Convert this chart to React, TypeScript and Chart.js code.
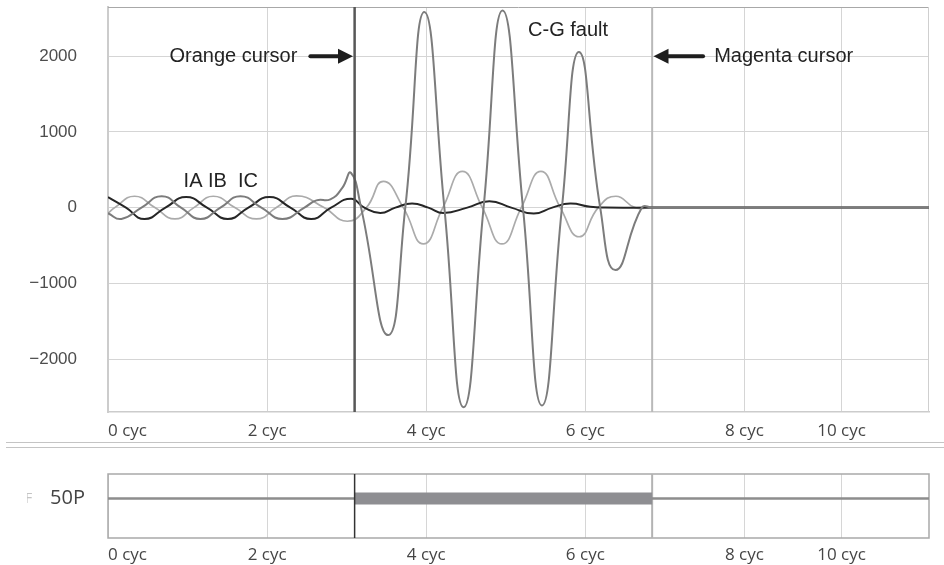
import React, { useEffect, useRef } from "react";
import { Chart, registerables } from "chart.js";

Chart.register(...registerables);

// ---------- axis data ----------
const xMin = 0;
const xMax = 10.32;
const xTickValues = [0, 2, 4, 6, 8, 9.22];
const xTickLabels = ["0 cyc", "2 cyc", "4 cyc", "6 cyc", "8 cyc", "10 cyc"];
const yMin = -2700;
const yMax = 2650;
const yTickValues = [2000, 1000, 0, -1000, -2000];

const orangeCursor = 3.1;
const magentaCursor = 6.84;

// ---------- current waveforms (cycles, amps) ----------
const iaTimes = [0, 0.226, 0.459, 0.722, 0.982, 1.244, 1.505, 1.765, 2.029, 2.293, 2.553, 2.804, 3.055, 3.222, 3.423, 3.612, 3.822, 4.026, 4.215, 4.516, 4.793, 5.069, 5.352, 5.584, 5.81, 6.061, 6.25, 6.84, 10.32];
const iaValues = [138, 0, -150, 0, 140, 0, -150, 0, 140, 0, -150, 0, 118, 0, -70, 0, 53, 0, -70, 0, 83, 0, -79, 0, 53, 10, 0, 0, 0];

const ibTimes = [0, 0.085, 0.334, 0.589, 0.842, 1.08, 1.323, 1.594, 1.866, 2.117, 2.369, 2.715, 3.009, 3.248, 3.461, 3.712, 3.964, 4.209, 4.454, 4.705, 4.952, 5.195, 5.442, 5.685, 5.923, 6.162, 6.384, 6.627, 6.84, 10.32];
const ibValues = [-75, 0, 150, 0, -150, 0, 150, 0, -150, 0, 155, 0, -180, 0, 346, 0, -480, 0, 478, 0, -480, 0, 478, 0, -385, 0, 150, 0, 0, 0];

const icTimes = [0, 0.168, 0.421, 0.675, 0.918, 1.162, 1.413, 1.665, 1.928, 2.192, 2.469, 2.62, 2.795, 2.945, 3.053, 3.181, 3.52, 3.737, 3.976, 4.228, 4.47, 4.721, 4.96, 5.216, 5.455, 5.706, 5.92, 6.187, 6.379, 6.711, 6.84, 10.32];
const icValues = [-75, -150, 0, 150, 0, -150, 0, 150, 0, -150, 0, 95, 110, 260, 460, 0, -1684, 0, 2583, 0, -2636, 0, 2605, 0, -2614, 0, 2057, 0, -825, 0, 0, 0];

// ---------- 50P digital element ----------
const p50Label = "50P";
const p50Times = [0, 3.1, 6.84, 10.32];
const p50States = [0, 1, 0];

// ---------- annotations ----------
const annotations = [
  { text: "Orange cursor", x: 2.38, y: 2000, align: "right" },
  { text: "Magenta cursor", x: 7.62, y: 2000, align: "left" },
  { text: "C-G fault", x: 5.28, y: 2343, align: "left" },
  { text: "IA IB  IC", x: 0.95, y: 350, align: "left" },
];
const arrows = [
  { from: 2.544, to: 3.08, y: 2000 },
  { from: 7.48, to: 6.857, y: 2000 },
];

const pts = (t: number[], v: number[]) => t.map((x, i) => ({ x, y: v[i] }));

const LABEL_FONT = "17px 'Open Sans', 'Noto Sans', sans-serif";
const ANNOT_FONT = "20px 'Liberation Sans', Arial, sans-serif";

function vline(ctx: CanvasRenderingContext2D, x: number, y1: number, y2: number, color: string, w: number) {
  ctx.save();
  ctx.strokeStyle = color;
  ctx.lineWidth = w;
  ctx.beginPath();
  ctx.moveTo(x, y1);
  ctx.lineTo(x, y2);
  ctx.stroke();
  ctx.restore();
}

function drawXLabels(chart: any, baselineOffset: number) {
  const { ctx, chartArea: a, scales } = chart;
  const xs = scales.x;
  ctx.save();
  ctx.font = LABEL_FONT;
  ctx.fillStyle = "#454545";
  ctx.textAlign = "left";
  ctx.textBaseline = "alphabetic";
  xTickValues.forEach((v, i) => {
    const px = xs.getPixelForValue(v);
    const w = ctx.measureText(xTickLabels[i]).width;
    const left = Math.max(px - w / 2, a.left);
    ctx.fillText(xTickLabels[i], left, a.bottom + baselineOffset);
  });
  ctx.restore();
}

function drawArrow(ctx: CanvasRenderingContext2D, x1: number, x2: number, y: number) {
  const dir = x2 > x1 ? 1 : -1;
  const headLen = 15;
  const headH = 7.5;
  ctx.save();
  ctx.fillStyle = "#1e1e1e";
  ctx.strokeStyle = "#1e1e1e";
  ctx.lineWidth = 4;
  ctx.lineCap = "round";
  ctx.beginPath();
  ctx.moveTo(x1, y);
  ctx.lineTo(x2 - dir * headLen, y);
  ctx.stroke();
  ctx.beginPath();
  ctx.moveTo(x2, y);
  ctx.lineTo(x2 - dir * headLen, y - headH);
  ctx.lineTo(x2 - dir * headLen, y + headH);
  ctx.closePath();
  ctx.fill();
  ctx.restore();
}

const topDecor = {
  id: "topDecor",
  beforeDatasetsDraw(chart: any) {
    const { ctx, chartArea: a, scales } = chart;
    ctx.save();
    ctx.strokeStyle = "#a8a8a8";
    ctx.lineWidth = 1;
    ctx.beginPath();
    ctx.moveTo(a.left, a.top + 0.5);
    ctx.lineTo(a.right, a.top + 0.5);
    ctx.stroke();
    ctx.strokeStyle = "#cfcfcf";
    ctx.beginPath();
    ctx.moveTo(a.right - 0.5, a.top);
    ctx.lineTo(a.right - 0.5, a.bottom);
    ctx.stroke();
    ctx.restore();
    vline(ctx, scales.x.getPixelForValue(magentaCursor), a.top, a.bottom, "#b9b9b9", 2);
  },
  afterDatasetsDraw(chart: any) {
    const { ctx, chartArea: a, scales } = chart;
    vline(ctx, scales.x.getPixelForValue(orangeCursor), a.top, a.bottom, "#575757", 2.5);
    ctx.save();
    ctx.font = ANNOT_FONT;
    ctx.fillStyle = "#232323";
    ctx.textBaseline = "middle";
    annotations.forEach((n) => {
      ctx.textAlign = n.align as CanvasTextAlign;
      ctx.fillText(n.text, scales.x.getPixelForValue(n.x), scales.y.getPixelForValue(n.y));
    });
    ctx.restore();
    arrows.forEach((r) =>
      drawArrow(ctx, scales.x.getPixelForValue(r.from), scales.x.getPixelForValue(r.to), scales.y.getPixelForValue(r.y))
    );
    drawXLabels(chart, 24);
  },
};

const bottomDecor = {
  id: "bottomDecor",
  beforeDatasetsDraw(chart: any) {
    const { ctx, chartArea: a, scales } = chart;
    ctx.save();
    ctx.strokeStyle = "#a9a9a9";
    ctx.lineWidth = 1.5;
    ctx.strokeRect(a.left, a.top, a.right - a.left, a.bottom - a.top);
    ctx.restore();
    vline(ctx, scales.x.getPixelForValue(magentaCursor), a.top, a.bottom, "#b3b3b3", 2);
  },
  afterDatasetsDraw(chart: any) {
    const { ctx, chartArea: a, scales } = chart;
    vline(ctx, scales.x.getPixelForValue(orangeCursor), a.top, a.bottom, "#333333", 1.5);
    drawXLabels(chart, 22);
    // faint clipped glyph at far left
    ctx.save();
    ctx.beginPath();
    ctx.rect(27, 0, 6, chart.height);
    ctx.clip();
    ctx.font = "14px 'Open Sans', sans-serif";
    ctx.fillStyle = "#c4c4c4";
    ctx.textBaseline = "middle";
    ctx.textAlign = "left";
    ctx.fillText("F", 25, scales.y.getPixelForValue(0));
    ctx.restore();
  },
};

export default function App() {
  const topRef = useRef<HTMLCanvasElement>(null);
  const botRef = useRef<HTMLCanvasElement>(null);

  useEffect(() => {
    const common = {
      pointRadius: 0,
      fill: false,
      tension: 0.5,
      borderJoinStyle: "round" as const,
    };
    const top = new Chart(topRef.current!, {
      type: "line",
      data: {
        datasets: [
          { label: "IC", data: pts(icTimes, icValues), borderColor: "#7c7c7c", borderWidth: 2, ...common },
          { label: "IA", data: pts(iaTimes, iaValues), borderColor: "#262626", borderWidth: 2, ...common },
          { label: "IB", data: pts(ibTimes, ibValues), borderColor: "#ababab", borderWidth: 1.7, ...common },
        ],
      },
      options: {
        animation: false,
        responsive: false,
        devicePixelRatio: 1,
        layout: { padding: { left: 0, right: 15, top: 7, bottom: 0 } },
        plugins: { legend: { display: false }, tooltip: { enabled: false } },
        scales: {
          x: {
            type: "linear",
            min: xMin,
            max: xMax,
            afterBuildTicks: (s: any) => {
              s.ticks = xTickValues.map((v) => ({ value: v }));
            },
            afterFit: (s: any) => {
              s.height = 30;
              s.paddingLeft = 0;
              s.paddingRight = 0;
            },
            ticks: { display: false },
            grid: { color: "#d5d5d5", lineWidth: 1, drawTicks: false },
            border: { color: "#cccccc", width: 1.5 },
          },
          y: {
            type: "linear",
            min: yMin,
            max: yMax,
            afterBuildTicks: (s: any) => {
              s.ticks = yTickValues.map((v) => ({ value: v }));
            },
            afterFit: (s: any) => {
              s.width = 108;
              s.paddingTop = 0;
              s.paddingBottom = 0;
            },
            ticks: {
              padding: 31,
              color: "#4d4d4d",
              font: { family: "'Liberation Sans', Arial, sans-serif", size: 17 },
              callback: (v: any) => (v < 0 ? "\u2212" + Math.abs(v) : String(v)),
            },
            grid: { color: "#d5d5d5", lineWidth: 1, drawTicks: false },
            border: { color: "#cccccc", width: 2 },
          },
        },
      },
      plugins: [topDecor],
    } as any);

    const thick: any[] = [];
    p50States.forEach((s, i) => {
      if (s === 1) {
        thick.push({
          label: p50Label + " asserted",
          data: [
            { x: p50Times[i], y: 0 },
            { x: p50Times[i + 1], y: 0 },
          ],
          borderColor: "#8e8e92",
          borderWidth: 12,
          borderCapStyle: "butt",
          pointRadius: 0,
          fill: false,
        });
      }
    });

    const bot = new Chart(botRef.current!, {
      type: "line",
      data: {
        datasets: [
          ...thick,
          {
            label: p50Label,
            data: [
              { x: p50Times[0], y: 0 },
              { x: p50Times[p50Times.length - 1], y: 0 },
            ],
            borderColor: "#8d8d8d",
            borderWidth: 2.5,
            pointRadius: 0,
            fill: false,
          },
        ],
      },
      options: {
        animation: false,
        responsive: false,
        devicePixelRatio: 1,
        layout: { padding: { left: 0, right: 15, top: 26, bottom: 0 } },
        plugins: { legend: { display: false }, tooltip: { enabled: false } },
        scales: {
          x: {
            type: "linear",
            min: xMin,
            max: xMax,
            afterBuildTicks: (s: any) => {
              s.ticks = xTickValues.map((v) => ({ value: v }));
            },
            afterFit: (s: any) => {
              s.height = 27;
              s.paddingLeft = 0;
              s.paddingRight = 0;
            },
            ticks: { display: false },
            grid: { color: "#d6d6d6", lineWidth: 1, drawTicks: false },
            border: { display: false },
          },
          y: {
            type: "linear",
            min: -1.6,
            max: 1,
            afterBuildTicks: (s: any) => {
              s.ticks = [{ value: 0 }];
            },
            afterFit: (s: any) => {
              s.width = 108;
              s.paddingTop = 0;
              s.paddingBottom = 0;
            },
            ticks: {
              padding: 23,
              color: "#444444",
              font: { family: "'Open Sans', 'Noto Sans', sans-serif", size: 20 },
              callback: () => p50Label,
            },
            grid: { display: false, drawTicks: false },
            border: { display: false },
          },
        },
      },
      plugins: [bottomDecor],
    } as any);

    return () => {
      top.destroy();
      bot.destroy();
    };
  }, []);

  return (
    <div
      style={{
        position: "absolute",
        left: 0,
        top: 0,
        width: 944,
        height: 565,
        background: "#ffffff",
        overflow: "hidden",
      }}
    >
      <canvas ref={topRef} width={944} height={442} style={{ position: "absolute", left: 0, top: 0 }} />
      <div style={{ position: "absolute", left: 6, right: 0, top: 442, borderTop: "1px solid #c4c4c4" }} />
      <div style={{ position: "absolute", left: 6, right: 0, top: 447, borderTop: "1px solid #c4c4c4" }} />
      <canvas ref={botRef} width={944} height={117} style={{ position: "absolute", left: 0, top: 448 }} />
    </div>
  );
}
